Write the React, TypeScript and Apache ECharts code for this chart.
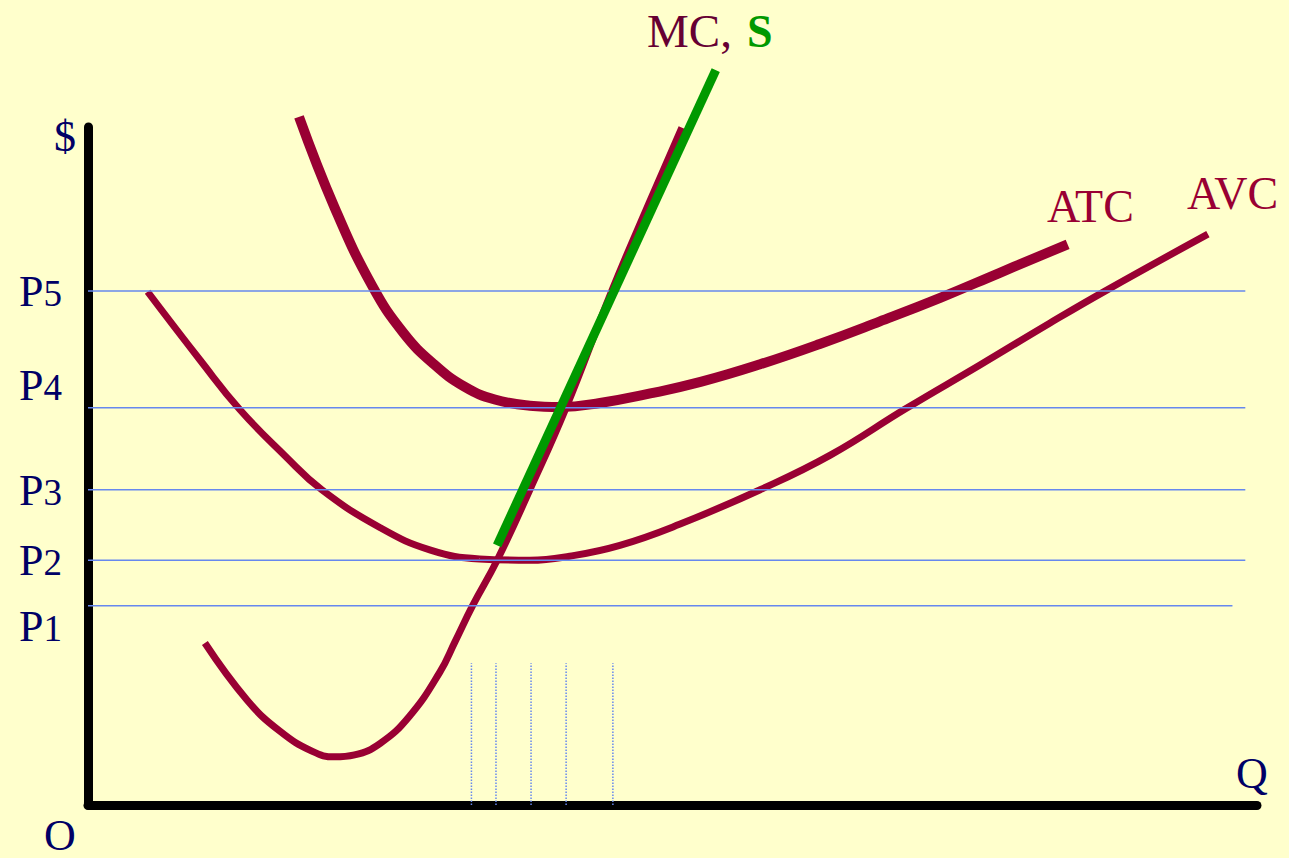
import { useEffect, useRef } from 'react';
import * as echarts from 'echarts';

// Price levels (P1..P5) and the output levels where MC meets them
const priceNames = ['P1', 'P2', 'P3', 'P4', 'P5'];
const priceLevels = [29.4, 36.1, 46.5, 58.6, 75.8];
const priceLineEnds = [97.9, 99, 99, 99, 99];
const quantityLevels = [32.8, 34.9, 37.9, 40.9, 44.9];
const quantityLineTop = 20.9;

// Cost curves as [Q, $] points
const atcCurve: [number, number][] = [
  [18.05, 101.5], [21.1, 88.1], [24.3, 76.6], [27.0, 69.6], [29.6, 65.0],
  [32.2, 61.7], [34.8, 59.8], [37.8, 58.9], [40.4, 58.7], [43.8, 59.3],
  [48.1, 60.7], [52.4, 62.4], [57.5, 65.0], [62.6, 68.0], [67.7, 71.3],
  [72.9, 74.8], [78.0, 78.5], [83.8, 82.7],
];
const avcCurve: [number, number][] = [
  [5.1, 75.7], [9.6, 65.6], [13.0, 58.3], [16.8, 51.6], [20.0, 46.5],
  [25.0, 40.9], [29.3, 37.6], [33.5, 36.3], [37.8, 36.1], [41.2, 36.7],
  [45.5, 38.3], [50.6, 41.4], [57.5, 46.5], [63.5, 51.6], [69.9, 58.4],
  [76.3, 64.9], [82.3, 71.1], [87.0, 75.8], [95.8, 84.2],
];
const mcCurve: [number, number][] = [
  [10.0, 23.9], [13.6, 15.5], [16.4, 10.9], [19.2, 7.9], [21.1, 7.1],
  [22.8, 7.4], [25.0, 9.1], [27.5, 13.1], [30.1, 19.6], [31.4, 24.1],
  [32.9, 29.4], [35.0, 36.1], [37.8, 46.5], [40.9, 58.6], [44.8, 75.8],
  [48.1, 89.2], [50.8, 99.9],
];
// Short-run supply: MC above the minimum of AVC
const supplyLine: [number, number][] = [[35.0, 38.3], [53.7, 108.4]];

const CURVE = '#990033';
const GUIDE = '#6688EE';
const GREEN = '#009900';
const NAVY = '#000066';
const FONT = '"Liberation Serif", "Times New Roman", serif';

const priceLabelY = [626, 560, 490, 385, 291];

export default function App() {
  const ref = useRef<HTMLDivElement>(null);

  useEffect(() => {
    document.body.style.margin = '0';
    const chart = echarts.init(ref.current!, undefined, { renderer: 'svg' });

    const priceSeries = priceLevels.map((p, i) => ({
      type: 'line',
      name: priceNames[i],
      data: [[0, p], [priceLineEnds[i], p]],
      showSymbol: false,
      silent: true,
      z: 3,
      lineStyle: { color: GUIDE, width: 1.5 },
    }));
    const quantitySeries = quantityLevels.map((q) => ({
      type: 'line',
      data: [[q, 0], [q, quantityLineTop]],
      showSymbol: false,
      silent: true,
      z: 3,
      lineStyle: { color: GUIDE, width: 1.5, type: 'dotted' },
    }));

    const curve = (name: string, data: [number, number][], width: number) => ({
      type: 'line',
      name,
      data,
      smooth: 0.45,
      showSymbol: false,
      silent: true,
      clip: false,
      z: 2,
      lineStyle: { color: CURVE, width },
    });

    const priceTexts = priceNames.map((n, i) => ({
      type: 'text',
      x: 19,
      y: priceLabelY[i],
      z: 10,
      style: {
        text: `{p|P}{d|${n.slice(1)}}`,
        verticalAlign: 'middle',
        rich: {
          p: { fontFamily: FONT, fontSize: 44, fill: NAVY, color: NAVY, verticalAlign: 'bottom', lineHeight: 44 },
          d: { fontFamily: FONT, fontSize: 37, fill: NAVY, color: NAVY, verticalAlign: 'bottom', lineHeight: 37, padding: [0, 0, 1, 0] },
        },
      },
    }));

    const txt = (text: string, x: number, y: number, fill: string, weight = 'normal', size = 44) => ({
      type: 'text',
      x,
      y,
      z: 10,
      style: {
        text,
        fill,
        font: `${weight} ${size}px ${FONT}`,
        verticalAlign: 'middle',
      },
    });

    chart.setOption({
      animation: false,
      backgroundColor: '#FFFFCC',
      grid: { left: 88, right: 32, top: 127, bottom: 53 },
      xAxis: {
        type: 'value', min: 0, max: 100,
        axisLine: { show: true, lineStyle: { color: '#000', width: 9 } },
        axisTick: { show: false }, axisLabel: { show: false }, splitLine: { show: false },
      },
      yAxis: {
        type: 'value', min: 0, max: 100,
        axisLine: { show: true, lineStyle: { color: '#000', width: 9 } },
        axisTick: { show: false }, axisLabel: { show: false }, splitLine: { show: false },
      },
      series: [
        curve('ATC', atcCurve, 10),
        curve('AVC', avcCurve, 7),
        curve('MC', mcCurve, 7),
        ...priceSeries,
        ...quantitySeries,
        {
          type: 'line',
          name: 'S',
          data: supplyLine,
          showSymbol: false,
          silent: true,
          clip: false,
          z: 4,
          lineStyle: { color: GREEN, width: 9 },
        },
      ],
      graphic: [
        ...priceTexts,
        txt('$', 54, 136, NAVY),
        txt('O', 44, 835, NAVY),
        txt('Q', 1236, 773, NAVY),
        txt('MC,', 647, 31, '#660033', 'normal', 47),
        txt('S', 747, 31, GREEN, 'bold', 46),
        txt('ATC', 1047, 206, CURVE, 'normal', 46),
        txt('AVC', 1187, 193, CURVE, 'normal', 46),
      ],
    });

    return () => chart.dispose();
  }, []);

  return (
    <div
      ref={ref}
      style={{ position: 'fixed', left: 0, top: 0, width: 1289, height: 858, background: '#FFFFCC' }}
    />
  );
}
